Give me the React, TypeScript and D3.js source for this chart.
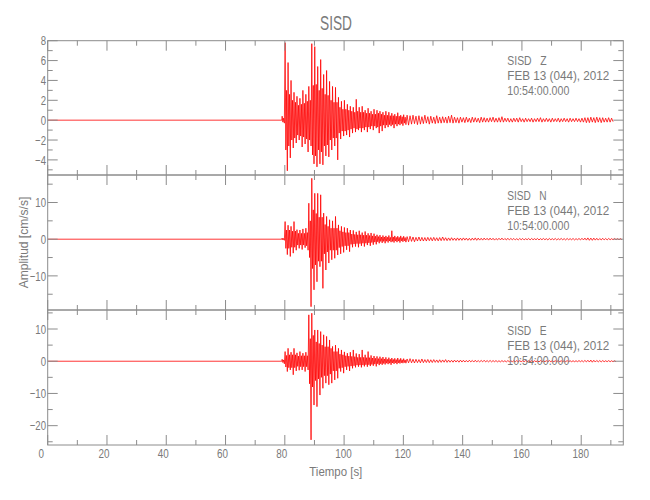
import React from 'react';
import * as d3 from 'd3';

// ---------- text ----------
const TITLE = 'SISD';
const X_LABEL = 'Tiempo [s]';
const Y_LABEL = 'Amplitud [cm/s/s]';
const STATION = 'SISD';
const COMPONENTS = ['Z', 'N', 'E'];
const DATE_LINE = 'FEB 13 (044), 2012';
const TIME_LINE = '10:54:00.000';

// ---------- axes ----------
const X_DOMAIN = [0, 194.2];
const X_MAJOR = [0, 20, 40, 60, 80, 100, 120, 140, 160, 180];
const X_MINOR = [10, 30, 50, 70, 90, 110, 130, 150, 170, 190];
const Y_DOMAINS = [[-5.52, 8], [-19.3, 17.5], [-26, 15.9]];
const Y_MAJOR = [[-4, -2, 0, 2, 4, 6, 8], [-10, 0, 10], [-20, -10, 0, 10]];
const Y_MINOR = [[-5, -3, -1, 1, 3, 5, 7], [-15, -5, 5, 15], [-25, -15, -5, 5, 15]];

// ---------- data: 1-s bins starting at ONSET_BIN; flat before ----------
// max / min: peak values in each second; core: amplitude of the dense band (strong-motion part)
const ONSET_BIN = 79;

const Z_MAX = [0.4, 7.8, 5.8, 4.0, 2.8, 2.4, 2.2, 3.0, 2.6, 3.4, 7.7, 7.4, 5.4, 6.1, 4.6, 5.0, 3.9, 3.4, 3.3, 2.3,
  1.9, 2.0, 1.6, 1.4, 1.3, 2.1, 1.3, 1.4, 1.0, 1.2, 0.9, 1.1, 1.0, 0.9, 0.8, 0.9, 0.8, 0.7, 0.6, 0.75,
  0.5, 0.55, 0.5, 0.45, 0.5, 0.4, 0.45, 0.35, 0.5, 0.35, 0.4, 0.3, 0.45, 0.3, 0.35, 0.3, 0.4, 0.5, 0.3, 0.25,
  0.3, 0.25, 0.3, 0.2, 0.3, 0.25, 0.2, 0.3, 0.25, 0.2, 0.25, 0.3, 0.2, 0.25, 0.35, 0.2, 0.2, 0.15, 0.2, 0.2,
  0.25, 0.15, 0.2, 0.15, 0.2, 0.15, 0.2, 0.25, 0.15, 0.2, 0.15, 0.2, 0.15, 0.2, 0.15, 0.2, 0.15, 0.2, 0.15, 0.2,
  0.15, 0.2, 0.25, 0.25, 0.3, 0.25, 0.3, 0.25, 0.25, 0.2, 0.25, 0.2];
const Z_MIN = [-0.3, -5.1, -3.8, -2.8, -2.3, -2.0, -2.7, -2.4, -3.2, -2.6, -4.4, -4.7, -4.4, -4.5, -3.6, -3.7, -3.0, -2.6, -4.0, -1.9,
  -1.6, -1.5, -1.7, -1.3, -1.2, -1.0, -1.2, -1.0, -1.2, -0.9, -1.0, -0.8, -1.3, -1.1, -0.8, -0.7, -0.6, -0.8, -0.6, -0.5,
  -0.55, -0.45, -0.5, -0.4, -0.35, -0.45, -0.4, -0.35, -0.3, -0.4, -0.3, -0.35, -0.3, -0.3, -0.25, -0.3, -0.25, -0.3, -0.25, -0.3,
  -0.2, -0.25, -0.2, -0.25, -0.2, -0.2, -0.25, -0.2, -0.2, -0.2, -0.15, -0.2, -0.2, -0.2, -0.2, -0.15, -0.2, -0.2, -0.15, -0.2,
  -0.15, -0.2, -0.15, -0.15, -0.2, -0.15, -0.15, -0.2, -0.15, -0.15, -0.2, -0.15, -0.15, -0.2, -0.15, -0.15, -0.2, -0.15, -0.15, -0.15,
  -0.2, -0.2, -0.25, -0.25, -0.2, -0.25, -0.2, -0.25, -0.2, -0.2, -0.2, -0.15];
const Z_CORE = [0.2, 3.0, 2.6, 2.0, 1.8, 1.5, 1.6, 1.7, 1.9, 2.0, 3.5, 3.6, 3.0, 3.2, 2.6, 2.5, 2.0, 1.8, 1.8, 1.3,
  1.1, 1.1, 1.0, 0.9, 0.8, 0.9, 0.8, 0.8, 0.7, 0.7, 0.6, 0.6, 0.7, 0.6, 0.5, 0.5, 0.45, 0.45, 0.4, 0.4, 0.35, 0.3];

const N_MAX = [0.3, 4.8, 3.8, 3.5, 4.8, 2.6, 2.5, 2.8, 3.0, 9.8, 16.6, 12.5, 12.5, 12.1, 7.1, 6.2, 5.3, 5.0, 6.2, 3.9,
  3.5, 3.2, 3.0, 2.5, 2.4, 2.0, 2.3, 1.8, 2.1, 1.6, 1.7, 1.5, 1.2, 1.1, 1.0, 0.9, 1.0, 2.3, 0.9, 0.8,
  0.9, 0.8, 0.7, 0.8, 0.6, 0.5, 0.6, 0.5, 0.45, 0.5, 0.45, 0.5, 0.4, 0.45, 0.6, 0.4, 0.35, 0.4, 0.3, 0.35,
  0.3, 0.35, 0.3, 0.25, 0.3, 0.35, 0.3, 0.25, 0.3, 0.25, 0.3, 0.25, 0.2, 0.25, 0.3, 0.2, 0.25, 0.2, 0.2, 0.15,
  0.2, 0.2, 0.15, 0.2, 0.2, 0.15, 0.2, 0.15, 0.2, 0.15, 0.2, 0.15, 0.2, 0.15, 0.2, 0.15, 0.2, 0.15, 0.2, 0.15,
  0.2, 0.25, 0.3, 0.35, 0.3, 0.3, 0.25, 0.2, 0.25, 0.2, 0.2, 0.15, 0.2, 0.15, 0.15];
const N_MIN = [-0.3, -4.2, -4.7, -3.8, -3.0, -2.5, -2.8, -2.3, -3.0, -18.4, -13.8, -11.6, -7.5, -13.4, -8.4, -6.5, -5.6, -5.2, -4.3, -4.0,
  -3.6, -2.9, -3.4, -2.2, -2.0, -2.2, -1.8, -2.0, -1.6, -1.8, -1.5, -1.4, -1.1, -1.0, -1.1, -0.9, -0.8, -0.9, -0.8, -0.9,
  -0.7, -0.8, -0.7, -0.6, -0.7, -0.5, -0.5, -0.5, -0.5, -0.4, -0.45, -0.4, -0.45, -0.4, -0.35, -0.4, -0.35, -0.3, -0.35, -0.3,
  -0.3, -0.25, -0.3, -0.3, -0.25, -0.3, -0.25, -0.25, -0.2, -0.25, -0.2, -0.25, -0.2, -0.2, -0.2, -0.2, -0.2, -0.15, -0.2, -0.2,
  -0.15, -0.2, -0.15, -0.2, -0.15, -0.15, -0.2, -0.15, -0.15, -0.2, -0.15, -0.15, -0.2, -0.15, -0.15, -0.2, -0.15, -0.15, -0.2, -0.15,
  -0.2, -0.2, -0.25, -0.3, -0.3, -0.25, -0.25, -0.2, -0.2, -0.2, -0.15, -0.15, -0.15, -0.15, -0.15];
const N_CORE = [0.2, 2.5, 2.5, 2.2, 2.2, 1.6, 1.6, 1.6, 1.8, 5.0, 8.0, 7.0, 6.0, 6.0, 4.0, 3.5, 3.0, 3.0, 3.0, 2.3,
  2.0, 1.8, 1.8, 1.4, 1.3, 1.2, 1.2, 1.1, 1.1, 1.0, 0.9, 0.8, 0.7, 0.6, 0.6, 0.55, 0.5, 0.6, 0.5, 0.5, 0.45, 0.45];

const E_MAX = [0.6, 3.0, 4.0, 2.8, 4.0, 2.6, 3.0, 2.5, 2.8, 14.4, 14.9, 9.7, 9.7, 9.2, 8.2, 7.7, 6.6, 4.6, 5.0, 4.0,
  3.5, 2.9, 2.5, 2.8, 3.5, 2.4, 2.2, 3.5, 2.0, 3.0, 1.8, 1.6, 1.5, 1.4, 1.3, 1.2, 1.1, 1.0, 0.9, 1.0,
  0.9, 0.8, 0.7, 0.8, 0.6, 0.6, 0.5, 0.7, 0.5, 0.55, 0.45, 0.5, 0.4, 0.45, 0.4, 0.5, 0.35, 0.3, 0.35, 0.3,
  0.35, 0.3, 0.25, 0.3, 0.25, 0.3, 0.2, 0.25, 0.3, 0.2, 0.25, 0.2, 0.2, 0.15, 0.2, 0.15, 0.2, 0.15, 0.15, 0.2,
  0.15, 0.15, 0.2, 0.15, 0.2, 0.15, 0.15, 0.2, 0.15, 0.15, 0.2, 0.15, 0.15, 0.2, 0.15, 0.15, 0.2, 0.15, 0.15, 0.15,
  0.2, 0.2, 0.25, 0.3, 0.35, 0.3, 0.25, 0.2, 0.2, 0.15, 0.2, 0.15, 0.15];
const E_MIN = [-0.8, -3.2, -2.7, -4.2, -3.0, -2.8, -2.7, -3.2, -2.7, -24.4, -13.6, -14.1, -10.5, -8.4, -6.8, -7.3, -6.8, -5.8, -5.3, -3.2,
  -3.7, -2.7, -3.0, -2.2, -1.9, -1.7, -1.9, -1.6, -1.7, -1.5, -1.4, -1.6, -1.2, -1.1, -1.0, -0.9, -1.1, -0.8, -0.9, -0.7,
  -0.6, -0.6, -0.5, -0.5, -0.55, -0.45, -0.5, -0.45, -0.4, -0.45, -0.4, -0.35, -0.4, -0.35, -0.3, -0.35, -0.3, -0.3, -0.25, -0.3,
  -0.25, -0.25, -0.25, -0.2, -0.25, -0.2, -0.2, -0.2, -0.2, -0.2, -0.2, -0.15, -0.2, -0.2, -0.15, -0.2, -0.15, -0.15, -0.15, -0.2,
  -0.15, -0.15, -0.15, -0.15, -0.15, -0.15, -0.2, -0.15, -0.15, -0.15, -0.15, -0.15, -0.15, -0.15, -0.15, -0.15, -0.15, -0.15, -0.15, -0.15,
  -0.15, -0.2, -0.2, -0.25, -0.3, -0.25, -0.2, -0.2, -0.15, -0.15, -0.15, -0.15, -0.15];
const E_CORE = [0.4, 1.8, 2.0, 2.0, 2.0, 1.6, 1.7, 1.7, 1.7, 7.0, 8.0, 6.0, 5.5, 5.0, 4.5, 4.5, 4.0, 3.0, 3.0, 2.2,
  2.0, 1.7, 1.6, 1.5, 1.4, 1.2, 1.2, 1.2, 1.1, 1.1, 1.0, 0.9, 0.8, 0.8, 0.7, 0.6, 0.6, 0.55, 0.5, 0.5, 0.45, 0.4];

const TRACES = [
  { max: Z_MAX, min: Z_MIN, core: Z_CORE },
  { max: N_MAX, min: N_MIN, core: N_CORE },
  { max: E_MAX, min: E_MIN, core: E_CORE },
];

// ---------- layout ----------
const W = 650;
const H = 500;
const PLOT_LEFT = 47.7;
const PLOT_RIGHT = 623.3;
const PANEL_EDGES = [40.7, 175, 310, 445];
const TEXT_COLOR = '#7a7a7a';
const AXIS_COLOR = '#8c8c8c';
const TRACE_COLOR = '#ff0000';
const FONT = '"Liberation Sans", Arial, sans-serif';

const fmt = (v: number) => (v < 0 ? '\u2212' + Math.abs(v) : String(v));

export default function App() {
  const x = d3.scaleLinear().domain(X_DOMAIN).range([PLOT_LEFT, PLOT_RIGHT]);

  const panels = TRACES.map((tr, p) => {
    const top = PANEL_EDGES[p];
    const bottom = PANEL_EDGES[p + 1];
    const y = d3.scaleLinear().domain(Y_DOMAINS[p]).range([bottom, top]);
    const pts: [number, number][] = [[X_DOMAIN[0], 0], [ONSET_BIN, 0]];
    tr.max.forEach((mx, i) => {
      const t = ONSET_BIN + i;
      const c = tr.core[i];
      if (c !== undefined) {
        pts.push([t + 0.1, mx]);
        pts.push([t + 0.35, -c]);
        pts.push([t + 0.6, c]);
        pts.push([t + 0.85, tr.min[i]]);
      } else {
        pts.push([t + 0.25, mx]);
        pts.push([t + 0.75, tr.min[i]]);
      }
    });
    const line = d3.line<[number, number]>().x((d) => x(d[0])).y((d) => y(d[1]));
    return { top, bottom, y, path: line(pts) || '' };
  });

  return (
    <svg
      width={W}
      height={H}
      style={{ position: 'absolute', left: 0, top: 0, background: '#fff' }}
      fontFamily={FONT}
    >
      <defs>
        {panels.map((pn, p) => (
          <clipPath id={`clip${p}`} key={p}>
            <rect x={PLOT_LEFT} y={pn.top} width={PLOT_RIGHT - PLOT_LEFT} height={pn.bottom - pn.top} />
          </clipPath>
        ))}
      </defs>
      <rect x={0} y={0} width={W} height={H} fill="#fff" />

      {/* title */}
      <text x={320} y={30} fontSize={21} fill={TEXT_COLOR} textLength={32} lengthAdjust="spacingAndGlyphs">
        {TITLE}
      </text>

      {panels.map((pn, p) => (
        <g key={p}>
          {/* trace */}
          <path
            d={pn.path}
            fill="none"
            stroke={TRACE_COLOR}
            strokeWidth={0.8}
            strokeLinejoin="bevel"
            clipPath={`url(#clip${p})`}
          />
          {/* frame */}
          <rect
            x={PLOT_LEFT}
            y={pn.top}
            width={PLOT_RIGHT - PLOT_LEFT}
            height={pn.bottom - pn.top}
            fill="none"
            stroke={AXIS_COLOR}
            strokeWidth={1}
          />
          {/* x ticks top & bottom */}
          {X_MAJOR.map((v) => (
            <g key={`xm${v}`}>
              <line x1={x(v)} x2={x(v)} y1={pn.top} y2={pn.top + 10} stroke={AXIS_COLOR} />
              <line x1={x(v)} x2={x(v)} y1={pn.bottom} y2={pn.bottom - 10} stroke={AXIS_COLOR} />
            </g>
          ))}
          {X_MINOR.map((v) => (
            <g key={`xn${v}`}>
              <line x1={x(v)} x2={x(v)} y1={pn.top} y2={pn.top + 5} stroke={AXIS_COLOR} />
              <line x1={x(v)} x2={x(v)} y1={pn.bottom} y2={pn.bottom - 5} stroke={AXIS_COLOR} />
            </g>
          ))}
          {/* y ticks left & right */}
          {Y_MAJOR[p].map((v) => (
            <g key={`ym${v}`}>
              <line x1={PLOT_LEFT} x2={PLOT_LEFT + 10} y1={pn.y(v)} y2={pn.y(v)} stroke={AXIS_COLOR} />
              <line x1={PLOT_RIGHT} x2={PLOT_RIGHT - 10} y1={pn.y(v)} y2={pn.y(v)} stroke={AXIS_COLOR} />
              <text
                transform={`translate(46,${pn.y(v)}) scale(0.74,1)`}
                textAnchor="end"
                dy="0.36em"
                fontSize={13}
                fill={TEXT_COLOR}
              >
                {fmt(v)}
              </text>
            </g>
          ))}
          {Y_MINOR[p].map((v) => (
            <g key={`yn${v}`}>
              <line x1={PLOT_LEFT} x2={PLOT_LEFT + 5} y1={pn.y(v)} y2={pn.y(v)} stroke={AXIS_COLOR} />
              <line x1={PLOT_RIGHT} x2={PLOT_RIGHT - 5} y1={pn.y(v)} y2={pn.y(v)} stroke={AXIS_COLOR} />
            </g>
          ))}
          {/* annotation */}
          <g fontSize={13} fill={TEXT_COLOR}>
            <text x={507.3} y={pn.top + 24.5} textLength={39.4} lengthAdjust="spacingAndGlyphs" xmlSpace="preserve">
              {`${STATION}   ${COMPONENTS[p]}`}
            </text>
            <text x={507.3} y={pn.top + 39.5} textLength={102} lengthAdjust="spacingAndGlyphs">
              {DATE_LINE}
            </text>
            <text x={507.3} y={pn.top + 54.5} textLength={62} lengthAdjust="spacingAndGlyphs">
              {TIME_LINE}
            </text>
          </g>
        </g>
      ))}

      {/* x tick labels */}
      {X_MAJOR.map((v) => {
        const n = String(v).length;
        const off = n === 1 ? -6.5 : n === 2 ? -3 : -0.5;
        return (
          <text
            key={`xl${v}`}
            transform={`translate(${x(v) + off},458) scale(0.76,1)`}
            textAnchor="middle"
            fontSize={13}
            fill={TEXT_COLOR}
          >
            {fmt(v)}
          </text>
        );
      })}

      {/* axis labels */}
      <text x={309.3} y={475.5} fontSize={13} fill={TEXT_COLOR} textLength={53} lengthAdjust="spacingAndGlyphs">
        {X_LABEL}
      </text>
      <text
        transform="translate(27.5,242.5) rotate(-90)"
        textAnchor="middle"
        fontSize={13}
        fill={TEXT_COLOR}
        textLength={91.6}
        lengthAdjust="spacingAndGlyphs"
      >
        {Y_LABEL}
      </text>
    </svg>
  );
}
